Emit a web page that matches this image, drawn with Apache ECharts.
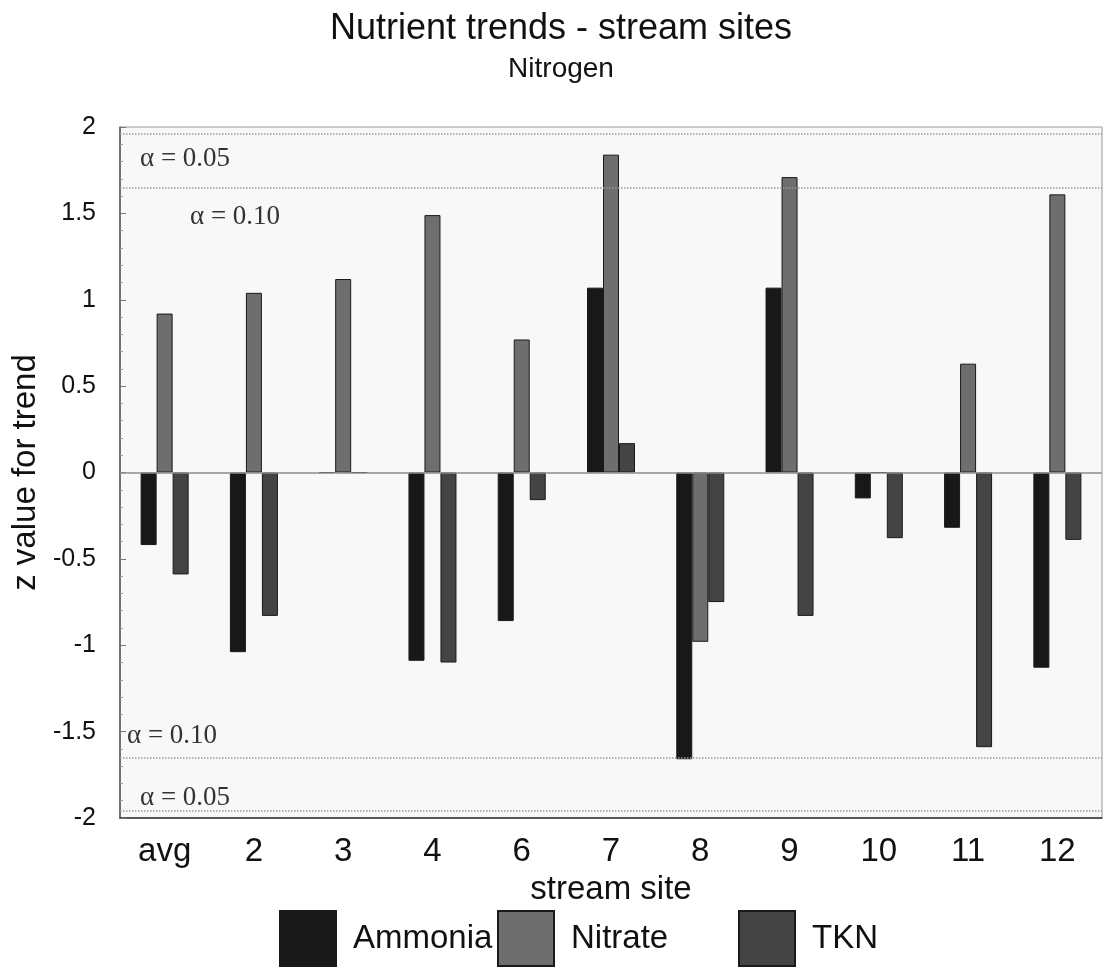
<!DOCTYPE html>
<html>
<head>
<meta charset="utf-8">
<script src="https://cdn.jsdelivr.net/npm/echarts@6/dist/echarts.min.js"></script>
<style>
  html, body { margin: 0; padding: 0; background: #fff; }
  #chart { width: 1105px; height: 969px; }
</style>
</head>
<body>
<div id="chart"></div>
<script>
const sites = ['avg', '2', '3', '4', '6', '7', '8', '9', '10', '11', '12'];
const ammonia = [-0.42, -1.04, 0, -1.09, -0.86, 1.07, -1.66, 1.07, -0.15, -0.32, -1.13];
const nitrate = [0.92, 1.04, 1.12, 1.49, 0.77, 1.84, -0.98, 1.71, 0, 0.63, 1.61];
const tkn = [-0.59, -0.83, 0, -1.10, -0.16, 0.17, -0.75, -0.83, -0.38, -1.59, -0.39];
const yTicks = { min: -2, max: 2, interval: 0.5 };
// critical z values for the two-sided test
const alphaLines = [
  { value: 1.96, text: 'α = 0.05' },
  { value: 1.645, text: 'α = 0.10' },
  { value: -1.645, text: 'α = 0.10' },
  { value: -1.96, text: 'α = 0.05' },
];

const sans = "'Liberation Sans', Arial, sans-serif";
const serif = "'Liberation Serif', 'Times New Roman', serif";

// label offsets [x, y] from each line's left end
const alphaLabelPos = [
  { position: 'insideStartBottom', distance: [20, 11] },
  { position: 'insideStartBottom', distance: [70, 16] },
  { position: 'insideStartTop', distance: [7, 8] },
  { position: 'insideStartTop', distance: [20, 0] },
];

const markLineData = [
  {
    yAxis: 0,
    label: { show: false },
    lineStyle: { type: 'solid', color: '#8c8c8c', width: 1.5 },
  },
].concat(
  alphaLines.map((a, i) => ({
    yAxis: a.value,
    label: {
      show: true,
      formatter: a.text,
      position: alphaLabelPos[i].position,
      distance: alphaLabelPos[i].distance,
      fontFamily: serif,
      fontSize: 27,
      color: '#333',
    },
    lineStyle: { type: 'dotted', color: '#9a9a9a', width: 1.5 },
  }))
);

const barStyle = (color) => ({
  color: color,
  borderColor: '#1a1a1a',
  borderWidth: 1,
});

const legendBase = {
  top: 910,
  padding: 0,
  itemWidth: 56,
  itemHeight: 55,
  icon: 'rect',
  selectedMode: false,
  textStyle: {
    fontFamily: sans,
    fontSize: 33,
    color: '#111',
    padding: [0, 0, 0, 12],
  },
};

const chart = echarts.init(document.getElementById('chart'));
chart.setOption({
  animation: false,
  backgroundColor: '#fff',
  title: {
    text: 'Nutrient trends - stream sites',
    subtext: 'Nitrogen',
    left: 556,
    textAlign: 'center',
    top: 6,
    itemGap: 8,
    textStyle: { fontFamily: sans, fontSize: 36, fontWeight: 'normal', color: '#111' },
    subtextStyle: { fontFamily: sans, fontSize: 28, color: '#111' },
  },
  legend: [
    Object.assign({}, legendBase, { left: 279, data: ['Ammonia'] }),
    Object.assign({}, legendBase, { left: 497, data: ['Nitrate'] }),
    Object.assign({}, legendBase, { left: 738, data: ['TKN'] }),
  ],
  grid: {
    left: 120,
    right: 3,
    top: 127,
    bottom: 151,
    show: true,
    backgroundColor: '#f8f8f8',
    borderColor: '#9a9a9a',
    borderWidth: 1,
  },
  xAxis: {
    type: 'category',
    data: sites,
    name: 'stream site',
    nameLocation: 'middle',
    nameGap: 55,
    nameTextStyle: { fontFamily: sans, fontSize: 33, color: '#111' },
    axisLine: { onZero: false, lineStyle: { color: '#333', width: 1.5 } },
    axisTick: { alignWithLabel: true, length: 8, lineStyle: { color: '#333' } },
    axisLabel: { fontFamily: sans, fontSize: 33, color: '#111', margin: 17 },
  },
  yAxis: {
    type: 'value',
    min: yTicks.min,
    max: yTicks.max,
    interval: yTicks.interval,
    name: 'z value for trend',
    nameLocation: 'middle',
    nameGap: 73,
    nameTextStyle: { fontFamily: sans, fontSize: 33, color: '#111' },
    axisLine: { show: true, lineStyle: { color: '#555', width: 1.5 } },
    axisTick: { show: true, inside: true, length: 6, lineStyle: { color: '#777' } },
    minorTick: { show: true, splitNumber: 5, length: 3, lineStyle: { color: '#999' } },
    splitLine: { show: false },
    axisLabel: { fontFamily: sans, fontSize: 25, color: '#111', margin: 24 },
  },
  series: [
    {
      name: 'Ammonia',
      type: 'bar',
      data: ammonia,
      barWidth: 16,
      barGap: '0%',
      itemStyle: barStyle('#181818'),
      markLine: {
        silent: true,
        symbol: ['none', 'none'],
        data: markLineData,
      },
    },
    {
      name: 'Nitrate',
      type: 'bar',
      data: nitrate,
      barWidth: 16,
      barGap: '0%',
      itemStyle: barStyle('#6e6e6e'),
    },
    {
      name: 'TKN',
      type: 'bar',
      data: tkn,
      barWidth: 16,
      barGap: '0%',
      itemStyle: barStyle('#444444'),
    },
  ],
});
</script>
</body>
</html>
